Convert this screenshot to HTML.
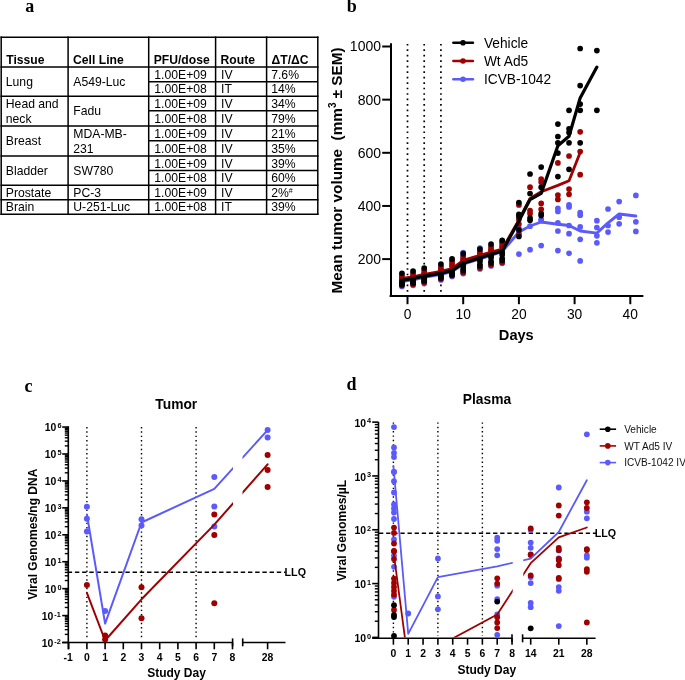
<!DOCTYPE html>
<html><head><meta charset="utf-8"><style>
html,body{margin:0;padding:0;background:#fff;}
svg{display:block;will-change:transform;}
</style></head><body>
<svg width="685" height="680" viewBox="0 0 685 680">
<rect width="685" height="680" fill="#fff"/>
<text x="25.20" y="11.60" font-family="Liberation Serif" font-size="18" font-weight="bold" text-anchor="start" >a</text>
<text x="346.80" y="11.60" font-family="Liberation Serif" font-size="18" font-weight="bold" text-anchor="start" >b</text>
<text x="24.60" y="391.60" font-family="Liberation Serif" font-size="18" font-weight="bold" text-anchor="start" >c</text>
<text x="346.60" y="389.60" font-family="Liberation Serif" font-size="18" font-weight="bold" text-anchor="start" >d</text>
<line x1="0.45" y1="37.20" x2="318.55" y2="37.20" stroke="#000" stroke-width="1.5" />
<line x1="0.45" y1="67.00" x2="318.55" y2="67.00" stroke="#000" stroke-width="1.5" />
<line x1="0.45" y1="96.20" x2="318.55" y2="96.20" stroke="#000" stroke-width="1.5" />
<line x1="0.45" y1="125.90" x2="318.55" y2="125.90" stroke="#000" stroke-width="1.5" />
<line x1="0.45" y1="156.00" x2="318.55" y2="156.00" stroke="#000" stroke-width="1.5" />
<line x1="0.45" y1="185.20" x2="318.55" y2="185.20" stroke="#000" stroke-width="1.5" />
<line x1="0.45" y1="199.70" x2="318.55" y2="199.70" stroke="#000" stroke-width="1.5" />
<line x1="0.45" y1="214.30" x2="318.55" y2="214.30" stroke="#000" stroke-width="1.5" />
<line x1="148.70" y1="81.80" x2="317.80" y2="81.80" stroke="#000" stroke-width="1.5" />
<line x1="148.70" y1="110.80" x2="317.80" y2="110.80" stroke="#000" stroke-width="1.5" />
<line x1="148.70" y1="140.70" x2="317.80" y2="140.70" stroke="#000" stroke-width="1.5" />
<line x1="148.70" y1="170.60" x2="317.80" y2="170.60" stroke="#000" stroke-width="1.5" />
<line x1="1.20" y1="36.45" x2="1.20" y2="215.05" stroke="#000" stroke-width="1.5" />
<line x1="68.10" y1="36.45" x2="68.10" y2="215.05" stroke="#000" stroke-width="1.5" />
<line x1="148.70" y1="36.45" x2="148.70" y2="215.05" stroke="#000" stroke-width="1.5" />
<line x1="215.60" y1="36.45" x2="215.60" y2="215.05" stroke="#000" stroke-width="1.5" />
<line x1="266.60" y1="36.45" x2="266.60" y2="215.05" stroke="#000" stroke-width="1.5" />
<line x1="317.80" y1="36.45" x2="317.80" y2="215.05" stroke="#000" stroke-width="1.5" />
<text x="6.20" y="64.20" font-family="Liberation Sans" font-size="12.15" font-weight="bold" text-anchor="start" >Tissue</text>
<text x="73.10" y="64.20" font-family="Liberation Sans" font-size="12.15" font-weight="bold" text-anchor="start" >Cell Line</text>
<text x="153.70" y="64.20" font-family="Liberation Sans" font-size="12.15" font-weight="bold" text-anchor="start" >PFU/dose</text>
<text x="220.60" y="64.20" font-family="Liberation Sans" font-size="12.15" font-weight="bold" text-anchor="start" >Route</text>
<text x="271.60" y="64.20" font-family="Liberation Sans" font-size="12.15" font-weight="bold" text-anchor="start" >ΔT/ΔC</text>
<text x="154.30" y="78.60" font-family="Liberation Sans" font-size="12.2" text-anchor="start" >1.00E+09</text>
<text x="221.00" y="78.60" font-family="Liberation Sans" font-size="12.2" text-anchor="start" >IV</text>
<text x="271.20" y="78.60" font-family="Liberation Sans" font-size="12.2" text-anchor="start" >7.6%</text>
<text x="154.30" y="93.20" font-family="Liberation Sans" font-size="12.2" text-anchor="start" >1.00E+08</text>
<text x="221.00" y="93.20" font-family="Liberation Sans" font-size="12.2" text-anchor="start" >IT</text>
<text x="271.20" y="93.20" font-family="Liberation Sans" font-size="12.2" text-anchor="start" >14%</text>
<text x="154.30" y="107.70" font-family="Liberation Sans" font-size="12.2" text-anchor="start" >1.00E+09</text>
<text x="221.00" y="107.70" font-family="Liberation Sans" font-size="12.2" text-anchor="start" >IV</text>
<text x="271.20" y="107.70" font-family="Liberation Sans" font-size="12.2" text-anchor="start" >34%</text>
<text x="154.30" y="122.55" font-family="Liberation Sans" font-size="12.2" text-anchor="start" >1.00E+08</text>
<text x="221.00" y="122.55" font-family="Liberation Sans" font-size="12.2" text-anchor="start" >IV</text>
<text x="271.20" y="122.55" font-family="Liberation Sans" font-size="12.2" text-anchor="start" >79%</text>
<text x="154.30" y="137.50" font-family="Liberation Sans" font-size="12.2" text-anchor="start" >1.00E+09</text>
<text x="221.00" y="137.50" font-family="Liberation Sans" font-size="12.2" text-anchor="start" >IV</text>
<text x="271.20" y="137.50" font-family="Liberation Sans" font-size="12.2" text-anchor="start" >21%</text>
<text x="154.30" y="152.55" font-family="Liberation Sans" font-size="12.2" text-anchor="start" >1.00E+08</text>
<text x="221.00" y="152.55" font-family="Liberation Sans" font-size="12.2" text-anchor="start" >IV</text>
<text x="271.20" y="152.55" font-family="Liberation Sans" font-size="12.2" text-anchor="start" >35%</text>
<text x="154.30" y="167.50" font-family="Liberation Sans" font-size="12.2" text-anchor="start" >1.00E+09</text>
<text x="221.00" y="167.50" font-family="Liberation Sans" font-size="12.2" text-anchor="start" >IV</text>
<text x="271.20" y="167.50" font-family="Liberation Sans" font-size="12.2" text-anchor="start" >39%</text>
<text x="154.30" y="182.10" font-family="Liberation Sans" font-size="12.2" text-anchor="start" >1.00E+08</text>
<text x="221.00" y="182.10" font-family="Liberation Sans" font-size="12.2" text-anchor="start" >IV</text>
<text x="271.20" y="182.10" font-family="Liberation Sans" font-size="12.2" text-anchor="start" >60%</text>
<text x="154.30" y="196.65" font-family="Liberation Sans" font-size="12.2" text-anchor="start" >1.00E+09</text>
<text x="221.00" y="196.65" font-family="Liberation Sans" font-size="12.2" text-anchor="start" >IV</text>
<text x="271.20" y="196.65" font-family="Liberation Sans" font-size="12.2" text-anchor="start" >2%<tspan font-size="7" dy="-4">#</tspan></text>
<text x="154.30" y="211.20" font-family="Liberation Sans" font-size="12.2" text-anchor="start" >1.00E+08</text>
<text x="221.00" y="211.20" font-family="Liberation Sans" font-size="12.2" text-anchor="start" >IT</text>
<text x="271.20" y="211.20" font-family="Liberation Sans" font-size="12.2" text-anchor="start" >39%</text>
<text x="5.80" y="85.80" font-family="Liberation Sans" font-size="12.2" text-anchor="start" >Lung</text>
<text x="73.30" y="85.80" font-family="Liberation Sans" font-size="12.2" text-anchor="start" >A549-Luc</text>
<text x="5.80" y="108.05" font-family="Liberation Sans" font-size="12.2" text-anchor="start" >Head and</text>
<text x="5.80" y="122.65" font-family="Liberation Sans" font-size="12.2" text-anchor="start" >neck</text>
<text x="73.30" y="115.25" font-family="Liberation Sans" font-size="12.2" text-anchor="start" >Fadu</text>
<text x="5.80" y="145.15" font-family="Liberation Sans" font-size="12.2" text-anchor="start" >Breast</text>
<text x="73.30" y="137.95" font-family="Liberation Sans" font-size="12.2" text-anchor="start" >MDA-MB-</text>
<text x="73.30" y="152.55" font-family="Liberation Sans" font-size="12.2" text-anchor="start" >231</text>
<text x="5.80" y="174.80" font-family="Liberation Sans" font-size="12.2" text-anchor="start" >Bladder</text>
<text x="73.30" y="174.80" font-family="Liberation Sans" font-size="12.2" text-anchor="start" >SW780</text>
<text x="5.80" y="196.65" font-family="Liberation Sans" font-size="12.2" text-anchor="start" >Prostate</text>
<text x="73.30" y="196.65" font-family="Liberation Sans" font-size="12.2" text-anchor="start" >PC-3</text>
<text x="5.80" y="211.20" font-family="Liberation Sans" font-size="12.2" text-anchor="start" >Brain</text>
<text x="73.30" y="211.20" font-family="Liberation Sans" font-size="12.2" text-anchor="start" >U-251-Luc</text>
<line x1="407.50" y1="43.9" x2="407.50" y2="295" stroke="#000" stroke-width="1.7" stroke-dasharray="1.7 3.77"/>
<line x1="424.21" y1="43.9" x2="424.21" y2="295" stroke="#000" stroke-width="1.7" stroke-dasharray="1.7 3.77"/>
<line x1="440.92" y1="43.9" x2="440.92" y2="295" stroke="#000" stroke-width="1.7" stroke-dasharray="1.7 3.77"/>
<line x1="391.00" y1="43.30" x2="391.00" y2="296.90" stroke="#000" stroke-width="2.0" />
<line x1="389.60" y1="295.90" x2="643.40" y2="295.90" stroke="#000" stroke-width="2.0" />
<line x1="382.20" y1="259.10" x2="391.00" y2="259.10" stroke="#000" stroke-width="2.0" />
<text x="381.00" y="264.00" font-family="Liberation Sans" font-size="14.0" text-anchor="end" >200</text>
<line x1="382.20" y1="205.95" x2="391.00" y2="205.95" stroke="#000" stroke-width="2.0" />
<text x="381.00" y="210.85" font-family="Liberation Sans" font-size="14.0" text-anchor="end" >400</text>
<line x1="382.20" y1="152.80" x2="391.00" y2="152.80" stroke="#000" stroke-width="2.0" />
<text x="381.00" y="157.70" font-family="Liberation Sans" font-size="14.0" text-anchor="end" >600</text>
<line x1="382.20" y1="99.65" x2="391.00" y2="99.65" stroke="#000" stroke-width="2.0" />
<text x="381.00" y="104.55" font-family="Liberation Sans" font-size="14.0" text-anchor="end" >800</text>
<line x1="382.20" y1="46.50" x2="391.00" y2="46.50" stroke="#000" stroke-width="2.0" />
<text x="381.00" y="51.40" font-family="Liberation Sans" font-size="14.0" text-anchor="end" >1000</text>
<line x1="407.50" y1="295.90" x2="407.50" y2="304.20" stroke="#000" stroke-width="2.0" />
<text x="407.50" y="318.60" font-family="Liberation Sans" font-size="13.8" text-anchor="middle" >0</text>
<line x1="463.20" y1="295.90" x2="463.20" y2="304.20" stroke="#000" stroke-width="2.0" />
<text x="463.20" y="318.60" font-family="Liberation Sans" font-size="13.8" text-anchor="middle" >10</text>
<line x1="518.90" y1="295.90" x2="518.90" y2="304.20" stroke="#000" stroke-width="2.0" />
<text x="518.90" y="318.60" font-family="Liberation Sans" font-size="13.8" text-anchor="middle" >20</text>
<line x1="574.60" y1="295.90" x2="574.60" y2="304.20" stroke="#000" stroke-width="2.0" />
<text x="574.60" y="318.60" font-family="Liberation Sans" font-size="13.8" text-anchor="middle" >30</text>
<line x1="630.30" y1="295.90" x2="630.30" y2="304.20" stroke="#000" stroke-width="2.0" />
<text x="630.30" y="318.60" font-family="Liberation Sans" font-size="13.8" text-anchor="middle" >40</text>
<text x="516.30" y="339.90" font-family="Liberation Sans" font-size="14.6" font-weight="bold" text-anchor="middle" >Days</text>
<text transform="translate(341.8,170.4) rotate(-90)" font-family="Liberation Sans" font-size="15.3" font-weight="bold" text-anchor="middle" xml:space="preserve">Mean tumor volume  (mm<tspan font-size="10" dy="-6">3</tspan><tspan dy="6"> ± SEM)</tspan></text>
<circle cx="518.90" cy="254.10" r="2.85" fill="#5a5aff"/>
<circle cx="518.90" cy="232.00" r="2.85" fill="#5a5aff"/>
<circle cx="518.90" cy="228.00" r="2.85" fill="#5a5aff"/>
<circle cx="530.04" cy="249.70" r="2.85" fill="#5a5aff"/>
<circle cx="530.04" cy="226.20" r="2.85" fill="#5a5aff"/>
<circle cx="541.18" cy="245.60" r="2.85" fill="#5a5aff"/>
<circle cx="541.18" cy="220.70" r="2.85" fill="#5a5aff"/>
<circle cx="541.18" cy="219.60" r="2.85" fill="#5a5aff"/>
<circle cx="557.89" cy="250.60" r="2.85" fill="#5a5aff"/>
<circle cx="557.89" cy="231.00" r="2.85" fill="#5a5aff"/>
<circle cx="557.89" cy="222.80" r="2.85" fill="#5a5aff"/>
<circle cx="557.89" cy="211.50" r="2.85" fill="#5a5aff"/>
<circle cx="557.89" cy="208.40" r="2.85" fill="#5a5aff"/>
<circle cx="569.03" cy="253.30" r="2.85" fill="#5a5aff"/>
<circle cx="569.03" cy="233.70" r="2.85" fill="#5a5aff"/>
<circle cx="569.03" cy="225.50" r="2.85" fill="#5a5aff"/>
<circle cx="569.03" cy="206.90" r="2.85" fill="#5a5aff"/>
<circle cx="569.03" cy="204.90" r="2.85" fill="#5a5aff"/>
<circle cx="580.17" cy="260.90" r="2.85" fill="#5a5aff"/>
<circle cx="580.17" cy="239.30" r="2.85" fill="#5a5aff"/>
<circle cx="580.17" cy="226.90" r="2.85" fill="#5a5aff"/>
<circle cx="580.17" cy="215.20" r="2.85" fill="#5a5aff"/>
<circle cx="580.17" cy="212.50" r="2.85" fill="#5a5aff"/>
<circle cx="596.88" cy="242.80" r="2.85" fill="#5a5aff"/>
<circle cx="596.88" cy="235.80" r="2.85" fill="#5a5aff"/>
<circle cx="596.88" cy="227.50" r="2.85" fill="#5a5aff"/>
<circle cx="596.88" cy="220.70" r="2.85" fill="#5a5aff"/>
<circle cx="608.02" cy="232.10" r="2.85" fill="#5a5aff"/>
<circle cx="608.02" cy="225.50" r="2.85" fill="#5a5aff"/>
<circle cx="608.02" cy="209.00" r="2.85" fill="#5a5aff"/>
<circle cx="619.16" cy="223.80" r="2.85" fill="#5a5aff"/>
<circle cx="619.16" cy="217.20" r="2.85" fill="#5a5aff"/>
<circle cx="619.16" cy="201.60" r="2.85" fill="#5a5aff"/>
<circle cx="635.87" cy="231.40" r="2.85" fill="#5a5aff"/>
<circle cx="635.87" cy="221.80" r="2.85" fill="#5a5aff"/>
<circle cx="635.87" cy="195.40" r="2.85" fill="#5a5aff"/>
<circle cx="401.93" cy="274.80" r="2.85" fill="#5a5aff"/>
<circle cx="401.93" cy="286.40" r="2.85" fill="#5a5aff"/>
<circle cx="401.93" cy="282.30" r="2.85" fill="#5a5aff"/>
<circle cx="413.07" cy="272.50" r="2.85" fill="#5a5aff"/>
<circle cx="413.07" cy="285.30" r="2.85" fill="#5a5aff"/>
<circle cx="413.07" cy="280.50" r="2.85" fill="#5a5aff"/>
<circle cx="424.21" cy="269.50" r="2.85" fill="#5a5aff"/>
<circle cx="424.21" cy="283.50" r="2.85" fill="#5a5aff"/>
<circle cx="424.21" cy="278.20" r="2.85" fill="#5a5aff"/>
<circle cx="440.92" cy="265.50" r="2.85" fill="#5a5aff"/>
<circle cx="440.92" cy="280.00" r="2.85" fill="#5a5aff"/>
<circle cx="440.92" cy="275.30" r="2.85" fill="#5a5aff"/>
<circle cx="452.06" cy="260.40" r="2.85" fill="#5a5aff"/>
<circle cx="452.06" cy="276.50" r="2.85" fill="#5a5aff"/>
<circle cx="452.06" cy="272.60" r="2.85" fill="#5a5aff"/>
<circle cx="463.20" cy="255.20" r="2.85" fill="#5a5aff"/>
<circle cx="463.20" cy="273.60" r="2.85" fill="#5a5aff"/>
<circle cx="463.20" cy="265.20" r="2.85" fill="#5a5aff"/>
<circle cx="463.20" cy="252.70" r="2.85" fill="#5a5aff"/>
<circle cx="479.91" cy="250.60" r="2.85" fill="#5a5aff"/>
<circle cx="479.91" cy="269.00" r="2.85" fill="#5a5aff"/>
<circle cx="479.91" cy="259.90" r="2.85" fill="#5a5aff"/>
<circle cx="479.91" cy="248.10" r="2.85" fill="#5a5aff"/>
<circle cx="491.05" cy="245.50" r="2.85" fill="#5a5aff"/>
<circle cx="491.05" cy="265.90" r="2.85" fill="#5a5aff"/>
<circle cx="491.05" cy="256.30" r="2.85" fill="#5a5aff"/>
<circle cx="502.19" cy="241.90" r="2.85" fill="#5a5aff"/>
<circle cx="502.19" cy="263.30" r="2.85" fill="#5a5aff"/>
<circle cx="502.19" cy="253.20" r="2.85" fill="#5a5aff"/>
<polyline points="401.93,281.50 413.07,279.80 424.21,277.30 440.92,274.30 452.06,271.60 463.20,264.20 479.91,258.90 491.05,255.30 502.19,251.50 518.90,232.00 530.04,226.00 541.18,222.00 557.89,224.20 569.03,225.50 580.17,231.00 596.88,233.10 608.02,222.80 619.16,214.00 635.87,216.00" fill="none" stroke="#5a5aff" stroke-width="2.9" stroke-linejoin="round" stroke-linecap="round" />
<circle cx="518.90" cy="204.90" r="2.85" fill="#a00000"/>
<circle cx="518.90" cy="219.60" r="2.85" fill="#a00000"/>
<circle cx="518.90" cy="224.00" r="2.85" fill="#a00000"/>
<circle cx="518.90" cy="234.70" r="2.85" fill="#a00000"/>
<circle cx="530.04" cy="187.20" r="2.85" fill="#a00000"/>
<circle cx="530.04" cy="210.70" r="2.85" fill="#a00000"/>
<circle cx="530.04" cy="213.70" r="2.85" fill="#a00000"/>
<circle cx="541.18" cy="179.10" r="2.85" fill="#a00000"/>
<circle cx="541.18" cy="182.00" r="2.85" fill="#a00000"/>
<circle cx="541.18" cy="203.40" r="2.85" fill="#a00000"/>
<circle cx="541.18" cy="209.30" r="2.85" fill="#a00000"/>
<circle cx="557.89" cy="162.90" r="2.85" fill="#a00000"/>
<circle cx="557.89" cy="195.00" r="2.85" fill="#a00000"/>
<circle cx="557.89" cy="199.40" r="2.85" fill="#a00000"/>
<circle cx="569.03" cy="156.00" r="2.85" fill="#a00000"/>
<circle cx="569.03" cy="189.10" r="2.85" fill="#a00000"/>
<circle cx="569.03" cy="194.30" r="2.85" fill="#a00000"/>
<circle cx="580.17" cy="131.80" r="2.85" fill="#a00000"/>
<circle cx="580.17" cy="151.60" r="2.85" fill="#a00000"/>
<circle cx="580.17" cy="174.70" r="2.85" fill="#a00000"/>
<circle cx="401.93" cy="276.30" r="2.85" fill="#a00000"/>
<circle cx="401.93" cy="278.80" r="2.85" fill="#a00000"/>
<circle cx="401.93" cy="278.30" r="2.85" fill="#a00000"/>
<circle cx="401.93" cy="285.50" r="2.85" fill="#a00000"/>
<circle cx="413.07" cy="274.00" r="2.85" fill="#a00000"/>
<circle cx="413.07" cy="276.50" r="2.85" fill="#a00000"/>
<circle cx="413.07" cy="276.25" r="2.85" fill="#a00000"/>
<circle cx="413.07" cy="284.40" r="2.85" fill="#a00000"/>
<circle cx="424.21" cy="271.00" r="2.85" fill="#a00000"/>
<circle cx="424.21" cy="273.50" r="2.85" fill="#a00000"/>
<circle cx="424.21" cy="273.60" r="2.85" fill="#a00000"/>
<circle cx="424.21" cy="282.60" r="2.85" fill="#a00000"/>
<circle cx="440.92" cy="267.00" r="2.85" fill="#a00000"/>
<circle cx="440.92" cy="269.50" r="2.85" fill="#a00000"/>
<circle cx="440.92" cy="270.15" r="2.85" fill="#a00000"/>
<circle cx="440.92" cy="279.10" r="2.85" fill="#a00000"/>
<circle cx="452.06" cy="261.90" r="2.85" fill="#a00000"/>
<circle cx="452.06" cy="264.40" r="2.85" fill="#a00000"/>
<circle cx="452.06" cy="266.25" r="2.85" fill="#a00000"/>
<circle cx="452.06" cy="275.60" r="2.85" fill="#a00000"/>
<circle cx="463.20" cy="256.70" r="2.85" fill="#a00000"/>
<circle cx="463.20" cy="259.20" r="2.85" fill="#a00000"/>
<circle cx="463.20" cy="259.95" r="2.85" fill="#a00000"/>
<circle cx="463.20" cy="272.70" r="2.85" fill="#a00000"/>
<circle cx="479.91" cy="252.10" r="2.85" fill="#a00000"/>
<circle cx="479.91" cy="254.60" r="2.85" fill="#a00000"/>
<circle cx="479.91" cy="255.00" r="2.85" fill="#a00000"/>
<circle cx="479.91" cy="268.10" r="2.85" fill="#a00000"/>
<circle cx="491.05" cy="247.00" r="2.85" fill="#a00000"/>
<circle cx="491.05" cy="249.50" r="2.85" fill="#a00000"/>
<circle cx="491.05" cy="250.65" r="2.85" fill="#a00000"/>
<circle cx="491.05" cy="265.00" r="2.85" fill="#a00000"/>
<circle cx="502.19" cy="243.40" r="2.85" fill="#a00000"/>
<circle cx="502.19" cy="245.90" r="2.85" fill="#a00000"/>
<circle cx="502.19" cy="247.30" r="2.85" fill="#a00000"/>
<circle cx="502.19" cy="262.40" r="2.85" fill="#a00000"/>
<polyline points="401.93,278.50 413.07,276.80 424.21,274.30 440.92,271.40 452.06,268.60 463.20,260.40 479.91,255.30 491.05,252.20 502.19,249.10 518.90,220.00 530.04,198.50 541.18,191.80 557.89,185.40 569.03,180.80 580.17,152.40" fill="none" stroke="#a00000" stroke-width="2.8" stroke-linejoin="round" stroke-linecap="round" />
<circle cx="518.90" cy="202.60" r="2.85" fill="#000000"/>
<circle cx="518.90" cy="214.40" r="2.85" fill="#000000"/>
<circle cx="518.90" cy="216.60" r="2.85" fill="#000000"/>
<circle cx="518.90" cy="229.90" r="2.85" fill="#000000"/>
<circle cx="518.90" cy="236.50" r="2.85" fill="#000000"/>
<circle cx="530.04" cy="174.00" r="2.85" fill="#000000"/>
<circle cx="530.04" cy="193.50" r="2.85" fill="#000000"/>
<circle cx="530.04" cy="218.10" r="2.85" fill="#000000"/>
<circle cx="530.04" cy="220.30" r="2.85" fill="#000000"/>
<circle cx="541.18" cy="167.10" r="2.85" fill="#000000"/>
<circle cx="541.18" cy="187.20" r="2.85" fill="#000000"/>
<circle cx="541.18" cy="213.70" r="2.85" fill="#000000"/>
<circle cx="541.18" cy="215.60" r="2.85" fill="#000000"/>
<circle cx="557.89" cy="124.10" r="2.85" fill="#000000"/>
<circle cx="557.89" cy="136.50" r="2.85" fill="#000000"/>
<circle cx="557.89" cy="142.80" r="2.85" fill="#000000"/>
<circle cx="557.89" cy="153.10" r="2.85" fill="#000000"/>
<circle cx="557.89" cy="176.60" r="2.85" fill="#000000"/>
<circle cx="569.03" cy="110.30" r="2.85" fill="#000000"/>
<circle cx="569.03" cy="128.80" r="2.85" fill="#000000"/>
<circle cx="569.03" cy="132.50" r="2.85" fill="#000000"/>
<circle cx="569.03" cy="142.80" r="2.85" fill="#000000"/>
<circle cx="569.03" cy="169.30" r="2.85" fill="#000000"/>
<circle cx="580.17" cy="48.50" r="2.85" fill="#000000"/>
<circle cx="580.17" cy="85.60" r="2.85" fill="#000000"/>
<circle cx="580.17" cy="104.10" r="2.85" fill="#000000"/>
<circle cx="580.17" cy="110.30" r="2.85" fill="#000000"/>
<circle cx="580.17" cy="142.80" r="2.85" fill="#000000"/>
<circle cx="596.88" cy="50.60" r="2.85" fill="#000000"/>
<circle cx="596.88" cy="110.30" r="2.85" fill="#000000"/>
<circle cx="401.93" cy="273.30" r="2.85" fill="#000000"/>
<circle cx="401.93" cy="281.30" r="2.85" fill="#000000"/>
<circle cx="401.93" cy="283.80" r="2.85" fill="#000000"/>
<circle cx="401.93" cy="284.70" r="2.85" fill="#000000"/>
<circle cx="401.93" cy="283.50" r="2.85" fill="#000000"/>
<circle cx="413.07" cy="271.00" r="2.85" fill="#000000"/>
<circle cx="413.07" cy="279.50" r="2.85" fill="#000000"/>
<circle cx="413.07" cy="282.00" r="2.85" fill="#000000"/>
<circle cx="413.07" cy="283.25" r="2.85" fill="#000000"/>
<circle cx="413.07" cy="282.40" r="2.85" fill="#000000"/>
<circle cx="424.21" cy="268.00" r="2.85" fill="#000000"/>
<circle cx="424.21" cy="277.20" r="2.85" fill="#000000"/>
<circle cx="424.21" cy="279.70" r="2.85" fill="#000000"/>
<circle cx="424.21" cy="281.20" r="2.85" fill="#000000"/>
<circle cx="424.21" cy="280.60" r="2.85" fill="#000000"/>
<circle cx="440.92" cy="264.00" r="2.85" fill="#000000"/>
<circle cx="440.92" cy="274.30" r="2.85" fill="#000000"/>
<circle cx="440.92" cy="276.80" r="2.85" fill="#000000"/>
<circle cx="440.92" cy="278.00" r="2.85" fill="#000000"/>
<circle cx="440.92" cy="277.10" r="2.85" fill="#000000"/>
<circle cx="452.06" cy="258.90" r="2.85" fill="#000000"/>
<circle cx="452.06" cy="271.60" r="2.85" fill="#000000"/>
<circle cx="452.06" cy="274.10" r="2.85" fill="#000000"/>
<circle cx="452.06" cy="274.90" r="2.85" fill="#000000"/>
<circle cx="452.06" cy="273.60" r="2.85" fill="#000000"/>
<circle cx="463.20" cy="253.70" r="2.85" fill="#000000"/>
<circle cx="463.20" cy="264.20" r="2.85" fill="#000000"/>
<circle cx="463.20" cy="266.70" r="2.85" fill="#000000"/>
<circle cx="463.20" cy="269.75" r="2.85" fill="#000000"/>
<circle cx="463.20" cy="270.70" r="2.85" fill="#000000"/>
<circle cx="479.91" cy="249.10" r="2.85" fill="#000000"/>
<circle cx="479.91" cy="258.90" r="2.85" fill="#000000"/>
<circle cx="479.91" cy="261.40" r="2.85" fill="#000000"/>
<circle cx="479.91" cy="264.80" r="2.85" fill="#000000"/>
<circle cx="479.91" cy="266.10" r="2.85" fill="#000000"/>
<circle cx="491.05" cy="244.00" r="2.85" fill="#000000"/>
<circle cx="491.05" cy="255.30" r="2.85" fill="#000000"/>
<circle cx="491.05" cy="257.80" r="2.85" fill="#000000"/>
<circle cx="491.05" cy="261.45" r="2.85" fill="#000000"/>
<circle cx="491.05" cy="263.00" r="2.85" fill="#000000"/>
<circle cx="502.19" cy="240.40" r="2.85" fill="#000000"/>
<circle cx="502.19" cy="252.20" r="2.85" fill="#000000"/>
<circle cx="502.19" cy="254.70" r="2.85" fill="#000000"/>
<circle cx="502.19" cy="258.60" r="2.85" fill="#000000"/>
<circle cx="502.19" cy="260.40" r="2.85" fill="#000000"/>
<polyline points="401.93,280.30 413.07,278.50 424.21,276.20 440.92,273.30 452.06,270.60 463.20,263.20 479.91,257.90 491.05,254.30 502.19,251.20 518.90,221.00 530.04,199.60 541.18,193.40 557.89,145.70 569.03,136.20 580.17,97.90 596.88,67.10" fill="none" stroke="#000000" stroke-width="3.2" stroke-linejoin="round" stroke-linecap="round" />
<line x1="453.40" y1="42.80" x2="472.90" y2="42.80" stroke="#000000" stroke-width="2.6" stroke-linecap="round"/>
<circle cx="463.00" cy="42.80" r="2.8" fill="#000000"/>
<text x="483.90" y="47.70" font-family="Liberation Sans" font-size="13.75" text-anchor="start" >Vehicle</text>
<line x1="453.40" y1="61.00" x2="472.90" y2="61.00" stroke="#a00000" stroke-width="2.6" stroke-linecap="round"/>
<circle cx="463.00" cy="61.00" r="2.8" fill="#a00000"/>
<text x="483.90" y="65.90" font-family="Liberation Sans" font-size="13.75" text-anchor="start" >Wt Ad5</text>
<line x1="453.40" y1="79.20" x2="472.90" y2="79.20" stroke="#5a5aff" stroke-width="2.6" stroke-linecap="round"/>
<circle cx="463.00" cy="79.20" r="2.8" fill="#5a5aff"/>
<text x="483.90" y="84.10" font-family="Liberation Sans" font-size="13.75" text-anchor="start" >ICVB-1042</text>
<line x1="68.30" y1="426.20" x2="68.30" y2="649.30" stroke="#000" stroke-width="1.6" />
<line x1="62.20" y1="642.50" x2="232.60" y2="642.50" stroke="#000" stroke-width="1.6" />
<line x1="242.70" y1="642.50" x2="285.50" y2="642.50" stroke="#000" stroke-width="1.6" />
<line x1="62.20" y1="642.50" x2="68.30" y2="642.50" stroke="#000" stroke-width="1.6" />
<line x1="64.80" y1="634.39" x2="68.30" y2="634.39" stroke="#000" stroke-width="1.4" />
<line x1="64.80" y1="629.65" x2="68.30" y2="629.65" stroke="#000" stroke-width="1.4" />
<line x1="64.80" y1="626.29" x2="68.30" y2="626.29" stroke="#000" stroke-width="1.4" />
<line x1="64.80" y1="623.68" x2="68.30" y2="623.68" stroke="#000" stroke-width="1.4" />
<line x1="64.80" y1="621.54" x2="68.30" y2="621.54" stroke="#000" stroke-width="1.4" />
<line x1="64.80" y1="619.74" x2="68.30" y2="619.74" stroke="#000" stroke-width="1.4" />
<line x1="64.80" y1="618.18" x2="68.30" y2="618.18" stroke="#000" stroke-width="1.4" />
<line x1="64.80" y1="616.80" x2="68.30" y2="616.80" stroke="#000" stroke-width="1.4" />
<text x="53.20" y="646.90" font-family="Liberation Sans" font-size="10.4" font-weight="bold" text-anchor="end" >10</text>
<text x="54.30" y="643.50" font-family="Liberation Sans" font-size="7.3" font-weight="bold" text-anchor="start" >-2</text>
<line x1="62.20" y1="615.57" x2="68.30" y2="615.57" stroke="#000" stroke-width="1.6" />
<line x1="64.80" y1="607.46" x2="68.30" y2="607.46" stroke="#000" stroke-width="1.4" />
<line x1="64.80" y1="602.72" x2="68.30" y2="602.72" stroke="#000" stroke-width="1.4" />
<line x1="64.80" y1="599.36" x2="68.30" y2="599.36" stroke="#000" stroke-width="1.4" />
<line x1="64.80" y1="596.75" x2="68.30" y2="596.75" stroke="#000" stroke-width="1.4" />
<line x1="64.80" y1="594.61" x2="68.30" y2="594.61" stroke="#000" stroke-width="1.4" />
<line x1="64.80" y1="592.81" x2="68.30" y2="592.81" stroke="#000" stroke-width="1.4" />
<line x1="64.80" y1="591.25" x2="68.30" y2="591.25" stroke="#000" stroke-width="1.4" />
<line x1="64.80" y1="589.87" x2="68.30" y2="589.87" stroke="#000" stroke-width="1.4" />
<text x="53.20" y="619.97" font-family="Liberation Sans" font-size="10.4" font-weight="bold" text-anchor="end" >10</text>
<text x="54.30" y="616.57" font-family="Liberation Sans" font-size="7.3" font-weight="bold" text-anchor="start" >-1</text>
<line x1="62.20" y1="588.64" x2="68.30" y2="588.64" stroke="#000" stroke-width="1.6" />
<line x1="64.80" y1="580.53" x2="68.30" y2="580.53" stroke="#000" stroke-width="1.4" />
<line x1="64.80" y1="575.79" x2="68.30" y2="575.79" stroke="#000" stroke-width="1.4" />
<line x1="64.80" y1="572.43" x2="68.30" y2="572.43" stroke="#000" stroke-width="1.4" />
<line x1="64.80" y1="569.82" x2="68.30" y2="569.82" stroke="#000" stroke-width="1.4" />
<line x1="64.80" y1="567.68" x2="68.30" y2="567.68" stroke="#000" stroke-width="1.4" />
<line x1="64.80" y1="565.88" x2="68.30" y2="565.88" stroke="#000" stroke-width="1.4" />
<line x1="64.80" y1="564.32" x2="68.30" y2="564.32" stroke="#000" stroke-width="1.4" />
<line x1="64.80" y1="562.94" x2="68.30" y2="562.94" stroke="#000" stroke-width="1.4" />
<text x="56.20" y="593.04" font-family="Liberation Sans" font-size="10.4" font-weight="bold" text-anchor="end" >10</text>
<text x="57.60" y="589.64" font-family="Liberation Sans" font-size="7.3" font-weight="bold" text-anchor="start" >0</text>
<line x1="62.20" y1="561.71" x2="68.30" y2="561.71" stroke="#000" stroke-width="1.6" />
<line x1="64.80" y1="553.60" x2="68.30" y2="553.60" stroke="#000" stroke-width="1.4" />
<line x1="64.80" y1="548.86" x2="68.30" y2="548.86" stroke="#000" stroke-width="1.4" />
<line x1="64.80" y1="545.50" x2="68.30" y2="545.50" stroke="#000" stroke-width="1.4" />
<line x1="64.80" y1="542.89" x2="68.30" y2="542.89" stroke="#000" stroke-width="1.4" />
<line x1="64.80" y1="540.75" x2="68.30" y2="540.75" stroke="#000" stroke-width="1.4" />
<line x1="64.80" y1="538.95" x2="68.30" y2="538.95" stroke="#000" stroke-width="1.4" />
<line x1="64.80" y1="537.39" x2="68.30" y2="537.39" stroke="#000" stroke-width="1.4" />
<line x1="64.80" y1="536.01" x2="68.30" y2="536.01" stroke="#000" stroke-width="1.4" />
<text x="56.20" y="566.11" font-family="Liberation Sans" font-size="10.4" font-weight="bold" text-anchor="end" >10</text>
<text x="57.60" y="562.71" font-family="Liberation Sans" font-size="7.3" font-weight="bold" text-anchor="start" >1</text>
<line x1="62.20" y1="534.78" x2="68.30" y2="534.78" stroke="#000" stroke-width="1.6" />
<line x1="64.80" y1="526.67" x2="68.30" y2="526.67" stroke="#000" stroke-width="1.4" />
<line x1="64.80" y1="521.93" x2="68.30" y2="521.93" stroke="#000" stroke-width="1.4" />
<line x1="64.80" y1="518.57" x2="68.30" y2="518.57" stroke="#000" stroke-width="1.4" />
<line x1="64.80" y1="515.96" x2="68.30" y2="515.96" stroke="#000" stroke-width="1.4" />
<line x1="64.80" y1="513.82" x2="68.30" y2="513.82" stroke="#000" stroke-width="1.4" />
<line x1="64.80" y1="512.02" x2="68.30" y2="512.02" stroke="#000" stroke-width="1.4" />
<line x1="64.80" y1="510.46" x2="68.30" y2="510.46" stroke="#000" stroke-width="1.4" />
<line x1="64.80" y1="509.08" x2="68.30" y2="509.08" stroke="#000" stroke-width="1.4" />
<text x="56.20" y="539.18" font-family="Liberation Sans" font-size="10.4" font-weight="bold" text-anchor="end" >10</text>
<text x="57.60" y="535.78" font-family="Liberation Sans" font-size="7.3" font-weight="bold" text-anchor="start" >2</text>
<line x1="62.20" y1="507.85" x2="68.30" y2="507.85" stroke="#000" stroke-width="1.6" />
<line x1="64.80" y1="499.74" x2="68.30" y2="499.74" stroke="#000" stroke-width="1.4" />
<line x1="64.80" y1="495.00" x2="68.30" y2="495.00" stroke="#000" stroke-width="1.4" />
<line x1="64.80" y1="491.64" x2="68.30" y2="491.64" stroke="#000" stroke-width="1.4" />
<line x1="64.80" y1="489.03" x2="68.30" y2="489.03" stroke="#000" stroke-width="1.4" />
<line x1="64.80" y1="486.89" x2="68.30" y2="486.89" stroke="#000" stroke-width="1.4" />
<line x1="64.80" y1="485.09" x2="68.30" y2="485.09" stroke="#000" stroke-width="1.4" />
<line x1="64.80" y1="483.53" x2="68.30" y2="483.53" stroke="#000" stroke-width="1.4" />
<line x1="64.80" y1="482.15" x2="68.30" y2="482.15" stroke="#000" stroke-width="1.4" />
<text x="56.20" y="512.25" font-family="Liberation Sans" font-size="10.4" font-weight="bold" text-anchor="end" >10</text>
<text x="57.60" y="508.85" font-family="Liberation Sans" font-size="7.3" font-weight="bold" text-anchor="start" >3</text>
<line x1="62.20" y1="480.92" x2="68.30" y2="480.92" stroke="#000" stroke-width="1.6" />
<line x1="64.80" y1="472.81" x2="68.30" y2="472.81" stroke="#000" stroke-width="1.4" />
<line x1="64.80" y1="468.07" x2="68.30" y2="468.07" stroke="#000" stroke-width="1.4" />
<line x1="64.80" y1="464.71" x2="68.30" y2="464.71" stroke="#000" stroke-width="1.4" />
<line x1="64.80" y1="462.10" x2="68.30" y2="462.10" stroke="#000" stroke-width="1.4" />
<line x1="64.80" y1="459.96" x2="68.30" y2="459.96" stroke="#000" stroke-width="1.4" />
<line x1="64.80" y1="458.16" x2="68.30" y2="458.16" stroke="#000" stroke-width="1.4" />
<line x1="64.80" y1="456.60" x2="68.30" y2="456.60" stroke="#000" stroke-width="1.4" />
<line x1="64.80" y1="455.22" x2="68.30" y2="455.22" stroke="#000" stroke-width="1.4" />
<text x="56.20" y="485.32" font-family="Liberation Sans" font-size="10.4" font-weight="bold" text-anchor="end" >10</text>
<text x="57.60" y="481.92" font-family="Liberation Sans" font-size="7.3" font-weight="bold" text-anchor="start" >4</text>
<line x1="62.20" y1="453.99" x2="68.30" y2="453.99" stroke="#000" stroke-width="1.6" />
<line x1="64.80" y1="445.88" x2="68.30" y2="445.88" stroke="#000" stroke-width="1.4" />
<line x1="64.80" y1="441.14" x2="68.30" y2="441.14" stroke="#000" stroke-width="1.4" />
<line x1="64.80" y1="437.78" x2="68.30" y2="437.78" stroke="#000" stroke-width="1.4" />
<line x1="64.80" y1="435.17" x2="68.30" y2="435.17" stroke="#000" stroke-width="1.4" />
<line x1="64.80" y1="433.03" x2="68.30" y2="433.03" stroke="#000" stroke-width="1.4" />
<line x1="64.80" y1="431.23" x2="68.30" y2="431.23" stroke="#000" stroke-width="1.4" />
<line x1="64.80" y1="429.67" x2="68.30" y2="429.67" stroke="#000" stroke-width="1.4" />
<line x1="64.80" y1="428.29" x2="68.30" y2="428.29" stroke="#000" stroke-width="1.4" />
<text x="56.20" y="458.39" font-family="Liberation Sans" font-size="10.4" font-weight="bold" text-anchor="end" >10</text>
<text x="57.60" y="454.99" font-family="Liberation Sans" font-size="7.3" font-weight="bold" text-anchor="start" >5</text>
<line x1="62.20" y1="427.06" x2="68.30" y2="427.06" stroke="#000" stroke-width="1.6" />
<text x="56.20" y="431.46" font-family="Liberation Sans" font-size="10.4" font-weight="bold" text-anchor="end" >10</text>
<text x="57.60" y="428.06" font-family="Liberation Sans" font-size="7.3" font-weight="bold" text-anchor="start" >6</text>
<line x1="68.70" y1="642.50" x2="68.70" y2="649.30" stroke="#000" stroke-width="1.6" />
<text x="68.20" y="660.50" font-family="Liberation Sans" font-size="10.4" font-weight="bold" text-anchor="middle" >-1</text>
<line x1="86.90" y1="642.50" x2="86.90" y2="649.30" stroke="#000" stroke-width="1.6" />
<text x="86.90" y="660.50" font-family="Liberation Sans" font-size="10.4" font-weight="bold" text-anchor="middle" >0</text>
<line x1="105.10" y1="642.50" x2="105.10" y2="649.30" stroke="#000" stroke-width="1.6" />
<text x="105.10" y="660.50" font-family="Liberation Sans" font-size="10.4" font-weight="bold" text-anchor="middle" >1</text>
<line x1="123.30" y1="642.50" x2="123.30" y2="649.30" stroke="#000" stroke-width="1.6" />
<text x="123.30" y="660.50" font-family="Liberation Sans" font-size="10.4" font-weight="bold" text-anchor="middle" >2</text>
<line x1="141.50" y1="642.50" x2="141.50" y2="649.30" stroke="#000" stroke-width="1.6" />
<text x="141.50" y="660.50" font-family="Liberation Sans" font-size="10.4" font-weight="bold" text-anchor="middle" >3</text>
<line x1="159.70" y1="642.50" x2="159.70" y2="649.30" stroke="#000" stroke-width="1.6" />
<text x="159.70" y="660.50" font-family="Liberation Sans" font-size="10.4" font-weight="bold" text-anchor="middle" >4</text>
<line x1="177.90" y1="642.50" x2="177.90" y2="649.30" stroke="#000" stroke-width="1.6" />
<text x="177.90" y="660.50" font-family="Liberation Sans" font-size="10.4" font-weight="bold" text-anchor="middle" >5</text>
<line x1="196.10" y1="642.50" x2="196.10" y2="649.30" stroke="#000" stroke-width="1.6" />
<text x="196.10" y="660.50" font-family="Liberation Sans" font-size="10.4" font-weight="bold" text-anchor="middle" >6</text>
<line x1="214.30" y1="642.50" x2="214.30" y2="649.30" stroke="#000" stroke-width="1.6" />
<text x="214.30" y="660.50" font-family="Liberation Sans" font-size="10.4" font-weight="bold" text-anchor="middle" >7</text>
<line x1="232.50" y1="642.50" x2="232.50" y2="649.30" stroke="#000" stroke-width="1.6" />
<text x="232.50" y="660.50" font-family="Liberation Sans" font-size="10.4" font-weight="bold" text-anchor="middle" >8</text>
<line x1="232.60" y1="638.40" x2="232.60" y2="646.30" stroke="#000" stroke-width="1.6" />
<line x1="242.70" y1="638.40" x2="242.70" y2="646.30" stroke="#000" stroke-width="1.6" />
<line x1="267.60" y1="642.50" x2="267.60" y2="649.30" stroke="#000" stroke-width="1.6" />
<text x="267.60" y="660.50" font-family="Liberation Sans" font-size="10.4" font-weight="bold" text-anchor="middle" >28</text>
<text x="176.50" y="676.80" font-family="Liberation Sans" font-size="12" font-weight="bold" text-anchor="middle" >Study Day</text>
<text x="176.30" y="408.50" font-family="Liberation Sans" font-size="13.8" font-weight="bold" text-anchor="middle" >Tumor</text>
<text transform="translate(36.6,534.2) rotate(-90)" font-family="Liberation Sans" font-size="12" font-weight="bold" text-anchor="middle">Viral Genomes/ng DNA</text>
<line x1="86.90" y1="427" x2="86.90" y2="640" stroke="#000" stroke-width="1.4" stroke-dasharray="1.4 2.95"/>
<line x1="141.50" y1="427" x2="141.50" y2="640" stroke="#000" stroke-width="1.4" stroke-dasharray="1.4 2.95"/>
<line x1="196.10" y1="427" x2="196.10" y2="640" stroke="#000" stroke-width="1.4" stroke-dasharray="1.4 2.95"/>
<line x1="67.7" y1="572.3" x2="285.5" y2="572.3" stroke="#000" stroke-width="1.6" stroke-dasharray="4.4 2.81"/>
<text x="284.60" y="576.30" font-family="Liberation Sans" font-size="10.7" font-weight="bold" text-anchor="start" >LLQ</text>
<circle cx="86.90" cy="506.80" r="3.0" fill="#5a5aff"/>
<circle cx="86.90" cy="518.80" r="3.0" fill="#5a5aff"/>
<circle cx="86.90" cy="531.50" r="3.0" fill="#5a5aff"/>
<circle cx="105.10" cy="611.00" r="3.0" fill="#5a5aff"/>
<circle cx="141.50" cy="519.30" r="3.0" fill="#5a5aff"/>
<circle cx="141.50" cy="525.60" r="3.0" fill="#5a5aff"/>
<circle cx="214.30" cy="477.00" r="3.0" fill="#5a5aff"/>
<circle cx="214.30" cy="506.50" r="3.0" fill="#5a5aff"/>
<circle cx="214.30" cy="526.60" r="3.0" fill="#5a5aff"/>
<circle cx="267.60" cy="430.10" r="3.0" fill="#5a5aff"/>
<circle cx="267.60" cy="437.60" r="3.0" fill="#5a5aff"/>
<circle cx="86.90" cy="584.90" r="3.0" fill="#a00000"/>
<circle cx="105.10" cy="635.50" r="3.0" fill="#a00000"/>
<circle cx="105.10" cy="639.50" r="3.0" fill="#a00000"/>
<circle cx="141.50" cy="587.20" r="3.0" fill="#a00000"/>
<circle cx="141.50" cy="618.30" r="3.0" fill="#a00000"/>
<circle cx="214.30" cy="514.40" r="3.0" fill="#a00000"/>
<circle cx="214.30" cy="535.10" r="3.0" fill="#a00000"/>
<circle cx="214.30" cy="603.30" r="3.0" fill="#a00000"/>
<circle cx="267.60" cy="454.90" r="3.0" fill="#a00000"/>
<circle cx="267.60" cy="469.90" r="3.0" fill="#a00000"/>
<circle cx="267.60" cy="487.10" r="3.0" fill="#a00000"/>
<clipPath id="cclip"><rect x="0" y="0" width="233" height="680"/><rect x="242.5" y="0" width="200" height="680"/></clipPath>
<polyline points="86.90,514.50 105.10,623.60 141.50,522.50 214.30,488.80 267.60,430.10" fill="none" stroke="#5a5aff" stroke-width="2.0" stroke-linejoin="round" stroke-linecap="round" clip-path="url(#cclip)"/>
<polyline points="86.90,592.80 105.10,640.50 141.50,599.30 214.30,524.60 267.60,464.30" fill="none" stroke="#a00000" stroke-width="2.0" stroke-linejoin="round" stroke-linecap="round" clip-path="url(#cclip)"/>
<line x1="378.50" y1="422.00" x2="378.50" y2="639.00" stroke="#000" stroke-width="1.6" />
<line x1="372.20" y1="638.20" x2="512.00" y2="638.20" stroke="#000" stroke-width="1.6" />
<line x1="522.60" y1="638.20" x2="595.60" y2="638.20" stroke="#000" stroke-width="1.6" />
<line x1="372.20" y1="637.40" x2="378.50" y2="637.40" stroke="#000" stroke-width="1.6" />
<line x1="374.80" y1="621.20" x2="378.50" y2="621.20" stroke="#000" stroke-width="1.4" />
<line x1="374.80" y1="611.72" x2="378.50" y2="611.72" stroke="#000" stroke-width="1.4" />
<line x1="374.80" y1="605.00" x2="378.50" y2="605.00" stroke="#000" stroke-width="1.4" />
<line x1="374.80" y1="599.78" x2="378.50" y2="599.78" stroke="#000" stroke-width="1.4" />
<line x1="374.80" y1="595.52" x2="378.50" y2="595.52" stroke="#000" stroke-width="1.4" />
<line x1="374.80" y1="591.92" x2="378.50" y2="591.92" stroke="#000" stroke-width="1.4" />
<line x1="374.80" y1="588.80" x2="378.50" y2="588.80" stroke="#000" stroke-width="1.4" />
<line x1="374.80" y1="586.04" x2="378.50" y2="586.04" stroke="#000" stroke-width="1.4" />
<text x="366.00" y="642.10" font-family="Liberation Sans" font-size="10.4" font-weight="bold" text-anchor="end" >10</text>
<text x="367.10" y="638.70" font-family="Liberation Sans" font-size="7.3" font-weight="bold" text-anchor="start" >0</text>
<line x1="372.20" y1="583.58" x2="378.50" y2="583.58" stroke="#000" stroke-width="1.6" />
<line x1="374.80" y1="567.38" x2="378.50" y2="567.38" stroke="#000" stroke-width="1.4" />
<line x1="374.80" y1="557.90" x2="378.50" y2="557.90" stroke="#000" stroke-width="1.4" />
<line x1="374.80" y1="551.18" x2="378.50" y2="551.18" stroke="#000" stroke-width="1.4" />
<line x1="374.80" y1="545.96" x2="378.50" y2="545.96" stroke="#000" stroke-width="1.4" />
<line x1="374.80" y1="541.70" x2="378.50" y2="541.70" stroke="#000" stroke-width="1.4" />
<line x1="374.80" y1="538.10" x2="378.50" y2="538.10" stroke="#000" stroke-width="1.4" />
<line x1="374.80" y1="534.98" x2="378.50" y2="534.98" stroke="#000" stroke-width="1.4" />
<line x1="374.80" y1="532.22" x2="378.50" y2="532.22" stroke="#000" stroke-width="1.4" />
<text x="366.00" y="588.28" font-family="Liberation Sans" font-size="10.4" font-weight="bold" text-anchor="end" >10</text>
<text x="367.10" y="584.88" font-family="Liberation Sans" font-size="7.3" font-weight="bold" text-anchor="start" >1</text>
<line x1="372.20" y1="529.76" x2="378.50" y2="529.76" stroke="#000" stroke-width="1.6" />
<line x1="374.80" y1="513.56" x2="378.50" y2="513.56" stroke="#000" stroke-width="1.4" />
<line x1="374.80" y1="504.08" x2="378.50" y2="504.08" stroke="#000" stroke-width="1.4" />
<line x1="374.80" y1="497.36" x2="378.50" y2="497.36" stroke="#000" stroke-width="1.4" />
<line x1="374.80" y1="492.14" x2="378.50" y2="492.14" stroke="#000" stroke-width="1.4" />
<line x1="374.80" y1="487.88" x2="378.50" y2="487.88" stroke="#000" stroke-width="1.4" />
<line x1="374.80" y1="484.28" x2="378.50" y2="484.28" stroke="#000" stroke-width="1.4" />
<line x1="374.80" y1="481.16" x2="378.50" y2="481.16" stroke="#000" stroke-width="1.4" />
<line x1="374.80" y1="478.40" x2="378.50" y2="478.40" stroke="#000" stroke-width="1.4" />
<text x="366.00" y="534.46" font-family="Liberation Sans" font-size="10.4" font-weight="bold" text-anchor="end" >10</text>
<text x="367.10" y="531.06" font-family="Liberation Sans" font-size="7.3" font-weight="bold" text-anchor="start" >2</text>
<line x1="372.20" y1="475.94" x2="378.50" y2="475.94" stroke="#000" stroke-width="1.6" />
<line x1="374.80" y1="459.74" x2="378.50" y2="459.74" stroke="#000" stroke-width="1.4" />
<line x1="374.80" y1="450.26" x2="378.50" y2="450.26" stroke="#000" stroke-width="1.4" />
<line x1="374.80" y1="443.54" x2="378.50" y2="443.54" stroke="#000" stroke-width="1.4" />
<line x1="374.80" y1="438.32" x2="378.50" y2="438.32" stroke="#000" stroke-width="1.4" />
<line x1="374.80" y1="434.06" x2="378.50" y2="434.06" stroke="#000" stroke-width="1.4" />
<line x1="374.80" y1="430.46" x2="378.50" y2="430.46" stroke="#000" stroke-width="1.4" />
<line x1="374.80" y1="427.34" x2="378.50" y2="427.34" stroke="#000" stroke-width="1.4" />
<line x1="374.80" y1="424.58" x2="378.50" y2="424.58" stroke="#000" stroke-width="1.4" />
<text x="366.00" y="480.64" font-family="Liberation Sans" font-size="10.4" font-weight="bold" text-anchor="end" >10</text>
<text x="367.10" y="477.24" font-family="Liberation Sans" font-size="7.3" font-weight="bold" text-anchor="start" >3</text>
<line x1="372.20" y1="422.12" x2="378.50" y2="422.12" stroke="#000" stroke-width="1.6" />
<text x="366.00" y="426.82" font-family="Liberation Sans" font-size="10.4" font-weight="bold" text-anchor="end" >10</text>
<text x="367.10" y="423.42" font-family="Liberation Sans" font-size="7.3" font-weight="bold" text-anchor="start" >4</text>
<line x1="393.40" y1="638.20" x2="393.40" y2="644.70" stroke="#000" stroke-width="1.6" />
<text x="393.40" y="656.80" font-family="Liberation Sans" font-size="10.4" font-weight="bold" text-anchor="middle" >0</text>
<line x1="408.23" y1="638.20" x2="408.23" y2="644.70" stroke="#000" stroke-width="1.6" />
<text x="408.23" y="656.80" font-family="Liberation Sans" font-size="10.4" font-weight="bold" text-anchor="middle" >1</text>
<line x1="423.06" y1="638.20" x2="423.06" y2="644.70" stroke="#000" stroke-width="1.6" />
<text x="423.06" y="656.80" font-family="Liberation Sans" font-size="10.4" font-weight="bold" text-anchor="middle" >2</text>
<line x1="437.89" y1="638.20" x2="437.89" y2="644.70" stroke="#000" stroke-width="1.6" />
<text x="437.89" y="656.80" font-family="Liberation Sans" font-size="10.4" font-weight="bold" text-anchor="middle" >3</text>
<line x1="452.72" y1="638.20" x2="452.72" y2="644.70" stroke="#000" stroke-width="1.6" />
<text x="452.72" y="656.80" font-family="Liberation Sans" font-size="10.4" font-weight="bold" text-anchor="middle" >4</text>
<line x1="467.55" y1="638.20" x2="467.55" y2="644.70" stroke="#000" stroke-width="1.6" />
<text x="467.55" y="656.80" font-family="Liberation Sans" font-size="10.4" font-weight="bold" text-anchor="middle" >5</text>
<line x1="482.38" y1="638.20" x2="482.38" y2="644.70" stroke="#000" stroke-width="1.6" />
<text x="482.38" y="656.80" font-family="Liberation Sans" font-size="10.4" font-weight="bold" text-anchor="middle" >6</text>
<line x1="497.21" y1="638.20" x2="497.21" y2="644.70" stroke="#000" stroke-width="1.6" />
<text x="497.21" y="656.80" font-family="Liberation Sans" font-size="10.4" font-weight="bold" text-anchor="middle" >7</text>
<line x1="512.04" y1="638.20" x2="512.04" y2="644.70" stroke="#000" stroke-width="1.6" />
<text x="512.04" y="656.80" font-family="Liberation Sans" font-size="10.4" font-weight="bold" text-anchor="middle" >8</text>
<line x1="512.00" y1="634.30" x2="512.00" y2="642.30" stroke="#000" stroke-width="1.6" />
<line x1="522.60" y1="634.30" x2="522.60" y2="642.30" stroke="#000" stroke-width="1.6" />
<line x1="530.70" y1="638.20" x2="530.70" y2="644.70" stroke="#000" stroke-width="1.6" />
<text x="530.70" y="656.80" font-family="Liberation Sans" font-size="10.4" font-weight="bold" text-anchor="middle" >14</text>
<line x1="558.77" y1="638.20" x2="558.77" y2="644.70" stroke="#000" stroke-width="1.6" />
<text x="558.77" y="656.80" font-family="Liberation Sans" font-size="10.4" font-weight="bold" text-anchor="middle" >21</text>
<line x1="586.84" y1="638.20" x2="586.84" y2="644.70" stroke="#000" stroke-width="1.6" />
<text x="586.84" y="656.80" font-family="Liberation Sans" font-size="10.4" font-weight="bold" text-anchor="middle" >28</text>
<text x="486.80" y="673.80" font-family="Liberation Sans" font-size="12" font-weight="bold" text-anchor="middle" >Study Day</text>
<text x="487.00" y="403.70" font-family="Liberation Sans" font-size="13.8" font-weight="bold" text-anchor="middle" >Plasma</text>
<text transform="translate(345.8,530.6) rotate(-90)" font-family="Liberation Sans" font-size="12" font-weight="bold" text-anchor="middle">Viral Genomes/µL</text>
<line x1="393.40" y1="422.4" x2="393.40" y2="636" stroke="#000" stroke-width="1.4" stroke-dasharray="1.4 2.95"/>
<line x1="437.89" y1="422.4" x2="437.89" y2="636" stroke="#000" stroke-width="1.4" stroke-dasharray="1.4 2.95"/>
<line x1="482.38" y1="422.4" x2="482.38" y2="636" stroke="#000" stroke-width="1.4" stroke-dasharray="1.4 2.95"/>
<line x1="379.0" y1="533.3" x2="596" y2="533.3" stroke="#000" stroke-width="1.6" stroke-dasharray="4.3 2.83"/>
<text x="594.80" y="537.20" font-family="Liberation Sans" font-size="10.7" font-weight="bold" text-anchor="start" >LLQ</text>
<circle cx="394.00" cy="427.10" r="2.9" fill="#5a5aff"/>
<circle cx="394.00" cy="447.40" r="2.9" fill="#5a5aff"/>
<circle cx="394.00" cy="452.90" r="2.9" fill="#5a5aff"/>
<circle cx="394.00" cy="457.10" r="2.9" fill="#5a5aff"/>
<circle cx="394.00" cy="471.80" r="2.9" fill="#5a5aff"/>
<circle cx="394.00" cy="481.20" r="2.9" fill="#5a5aff"/>
<circle cx="394.00" cy="472.00" r="2.9" fill="#5a5aff"/>
<circle cx="394.00" cy="492.50" r="2.9" fill="#5a5aff"/>
<circle cx="394.00" cy="504.40" r="2.9" fill="#5a5aff"/>
<circle cx="394.00" cy="508.40" r="2.9" fill="#5a5aff"/>
<circle cx="394.00" cy="512.40" r="2.9" fill="#5a5aff"/>
<circle cx="394.00" cy="519.00" r="2.9" fill="#5a5aff"/>
<circle cx="394.00" cy="539.50" r="2.9" fill="#5a5aff"/>
<circle cx="394.00" cy="555.60" r="2.9" fill="#5a5aff"/>
<circle cx="394.00" cy="566.80" r="2.9" fill="#5a5aff"/>
<circle cx="394.00" cy="596.80" r="2.9" fill="#5a5aff"/>
<circle cx="408.23" cy="613.50" r="2.9" fill="#5a5aff"/>
<circle cx="437.89" cy="558.40" r="2.9" fill="#5a5aff"/>
<circle cx="437.89" cy="596.40" r="2.9" fill="#5a5aff"/>
<circle cx="437.89" cy="609.30" r="2.9" fill="#5a5aff"/>
<circle cx="497.21" cy="537.70" r="2.9" fill="#5a5aff"/>
<circle cx="497.21" cy="540.80" r="2.9" fill="#5a5aff"/>
<circle cx="497.21" cy="549.10" r="2.9" fill="#5a5aff"/>
<circle cx="497.21" cy="555.30" r="2.9" fill="#5a5aff"/>
<circle cx="497.21" cy="585.70" r="2.9" fill="#5a5aff"/>
<circle cx="497.21" cy="599.10" r="2.9" fill="#5a5aff"/>
<circle cx="497.21" cy="614.50" r="2.9" fill="#5a5aff"/>
<circle cx="497.21" cy="634.80" r="2.9" fill="#5a5aff"/>
<circle cx="530.70" cy="530.00" r="2.9" fill="#5a5aff"/>
<circle cx="530.70" cy="542.60" r="2.9" fill="#5a5aff"/>
<circle cx="530.70" cy="547.80" r="2.9" fill="#5a5aff"/>
<circle cx="530.70" cy="577.10" r="2.9" fill="#5a5aff"/>
<circle cx="530.70" cy="583.10" r="2.9" fill="#5a5aff"/>
<circle cx="530.70" cy="602.90" r="2.9" fill="#5a5aff"/>
<circle cx="530.70" cy="607.20" r="2.9" fill="#5a5aff"/>
<circle cx="558.77" cy="487.50" r="2.9" fill="#5a5aff"/>
<circle cx="558.77" cy="550.40" r="2.9" fill="#5a5aff"/>
<circle cx="558.77" cy="558.30" r="2.9" fill="#5a5aff"/>
<circle cx="558.77" cy="558.60" r="2.9" fill="#5a5aff"/>
<circle cx="558.77" cy="587.10" r="2.9" fill="#5a5aff"/>
<circle cx="558.77" cy="590.80" r="2.9" fill="#5a5aff"/>
<circle cx="558.77" cy="626.10" r="2.9" fill="#5a5aff"/>
<circle cx="586.84" cy="434.30" r="2.9" fill="#5a5aff"/>
<circle cx="586.84" cy="511.70" r="2.9" fill="#5a5aff"/>
<circle cx="586.84" cy="518.30" r="2.9" fill="#5a5aff"/>
<circle cx="586.84" cy="555.30" r="2.9" fill="#5a5aff"/>
<circle cx="586.84" cy="557.70" r="2.9" fill="#5a5aff"/>
<circle cx="394.00" cy="527.60" r="2.9" fill="#a00000"/>
<circle cx="394.00" cy="532.90" r="2.9" fill="#a00000"/>
<circle cx="394.00" cy="543.50" r="2.9" fill="#a00000"/>
<circle cx="394.00" cy="550.80" r="2.9" fill="#a00000"/>
<circle cx="394.00" cy="551.40" r="2.9" fill="#a00000"/>
<circle cx="394.00" cy="559.10" r="2.9" fill="#a00000"/>
<circle cx="394.00" cy="578.60" r="2.9" fill="#a00000"/>
<circle cx="394.00" cy="583.00" r="2.9" fill="#a00000"/>
<circle cx="394.00" cy="587.00" r="2.9" fill="#a00000"/>
<circle cx="394.00" cy="591.00" r="2.9" fill="#a00000"/>
<circle cx="394.00" cy="594.70" r="2.9" fill="#a00000"/>
<circle cx="394.00" cy="610.00" r="2.9" fill="#a00000"/>
<circle cx="497.21" cy="578.30" r="2.9" fill="#a00000"/>
<circle cx="497.21" cy="583.60" r="2.9" fill="#a00000"/>
<circle cx="497.21" cy="617.20" r="2.9" fill="#a00000"/>
<circle cx="497.21" cy="622.50" r="2.9" fill="#a00000"/>
<circle cx="497.21" cy="628.10" r="2.9" fill="#a00000"/>
<circle cx="530.70" cy="528.40" r="2.9" fill="#a00000"/>
<circle cx="530.70" cy="554.40" r="2.9" fill="#a00000"/>
<circle cx="530.70" cy="555.00" r="2.9" fill="#a00000"/>
<circle cx="530.70" cy="575.40" r="2.9" fill="#a00000"/>
<circle cx="558.77" cy="505.50" r="2.9" fill="#a00000"/>
<circle cx="558.77" cy="515.60" r="2.9" fill="#a00000"/>
<circle cx="558.77" cy="547.80" r="2.9" fill="#a00000"/>
<circle cx="558.77" cy="550.00" r="2.9" fill="#a00000"/>
<circle cx="558.77" cy="559.00" r="2.9" fill="#a00000"/>
<circle cx="558.77" cy="560.30" r="2.9" fill="#a00000"/>
<circle cx="558.77" cy="565.20" r="2.9" fill="#a00000"/>
<circle cx="558.77" cy="577.80" r="2.9" fill="#a00000"/>
<circle cx="558.77" cy="578.90" r="2.9" fill="#a00000"/>
<circle cx="586.84" cy="502.30" r="2.9" fill="#a00000"/>
<circle cx="586.84" cy="508.00" r="2.9" fill="#a00000"/>
<circle cx="586.84" cy="549.10" r="2.9" fill="#a00000"/>
<circle cx="586.84" cy="550.00" r="2.9" fill="#a00000"/>
<circle cx="586.84" cy="569.20" r="2.9" fill="#a00000"/>
<circle cx="586.84" cy="571.80" r="2.9" fill="#a00000"/>
<circle cx="586.84" cy="622.50" r="2.9" fill="#a00000"/>
<circle cx="394.00" cy="605.20" r="2.9" fill="#000000"/>
<circle cx="394.00" cy="615.00" r="2.9" fill="#000000"/>
<circle cx="394.00" cy="617.00" r="2.9" fill="#000000"/>
<circle cx="394.00" cy="635.90" r="2.9" fill="#000000"/>
<circle cx="497.21" cy="601.60" r="2.9" fill="#000000"/>
<circle cx="530.70" cy="628.30" r="2.9" fill="#000000"/>
<clipPath id="dclip"><rect x="0" y="0" width="512.7" height="680"/><rect x="523.3" y="0" width="200" height="680"/></clipPath>
<clipPath id="dclip2"><rect x="379" y="380" width="133.7" height="257.4"/><rect x="523.3" y="380" width="200" height="257.4"/></clipPath>
<polyline points="393.40,465.90 408.23,633.80 437.89,577.20 497.21,566.30 530.70,558.60 558.77,532.00 586.84,480.20" fill="none" stroke="#5a5aff" stroke-width="1.8" stroke-linejoin="round" stroke-linecap="round" clip-path="url(#dclip2)"/>
<polyline points="393.40,551.00 408.23,662.70 437.89,646.40 497.21,614.50 530.70,563.20 558.77,537.30 586.84,527.50" fill="none" stroke="#a00000" stroke-width="1.8" stroke-linejoin="round" stroke-linecap="round" clip-path="url(#dclip2)"/>
<line x1="599.70" y1="429.20" x2="616.10" y2="429.20" stroke="#000000" stroke-width="1.6" />
<circle cx="607.80" cy="429.20" r="2.8" fill="#000000"/>
<text x="624.20" y="432.80" font-family="Liberation Sans" font-size="10.1" text-anchor="start" fill="#111">Vehicle</text>
<line x1="599.70" y1="445.90" x2="616.10" y2="445.90" stroke="#a00000" stroke-width="1.6" />
<circle cx="607.80" cy="445.90" r="2.8" fill="#a00000"/>
<text x="624.20" y="449.50" font-family="Liberation Sans" font-size="10.1" text-anchor="start" fill="#111">WT Ad5 IV</text>
<line x1="599.70" y1="462.60" x2="616.10" y2="462.60" stroke="#5a5aff" stroke-width="1.6" />
<circle cx="607.80" cy="462.60" r="2.8" fill="#5a5aff"/>
<text x="624.20" y="466.20" font-family="Liberation Sans" font-size="10.1" text-anchor="start" fill="#111">ICVB-1042 IV</text>
</svg>
</body></html>
